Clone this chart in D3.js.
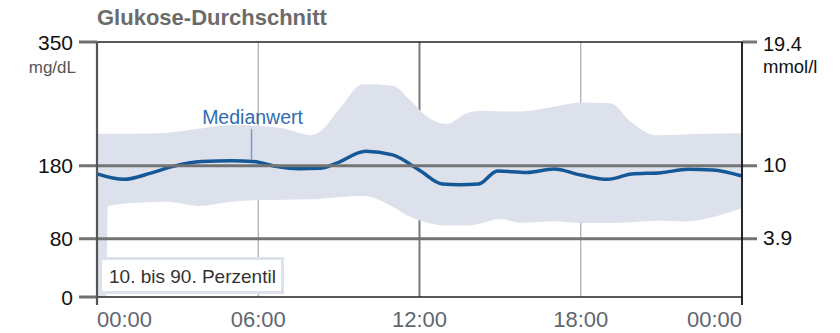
<!DOCTYPE html>
<html>
<head>
<meta charset="utf-8">
<script src="https://cdn.jsdelivr.net/npm/d3@7/dist/d3.min.js"></script>
<style>
  html, body { margin: 0; padding: 0; background: #fff; }
  svg { display: block; font-family: "Liberation Sans", Arial, sans-serif; }
</style>
</head>
<body>
<svg id="chart" width="840" height="333"></svg>
<script>
// Glucose profile over 24 hours (mg/dL)
const bandHours = [0, 0.35, 0.4, 1.5, 2.6, 3.8, 5.0, 6.0, 6.9, 8.0, 8.3, 9.0, 9.9, 11.0, 11.65, 12.3, 13.0, 13.75, 14.25, 15.0, 15.75, 17.0, 18.0, 19.1, 19.9, 20.8, 21.9, 22.6, 23.2, 24];
const p90 = [224, 224, 224, 224, 225.5, 231, 236, 235, 231.5, 222, 227, 257, 292, 290, 270, 247, 237.5, 252, 255.5, 254.5, 254.5, 261, 267, 266, 239, 222, 223, 224, 224.5, 224.7];
const p10 = [0, 0, 125, 129.5, 130.8, 125, 130.8, 133, 133.5, 134, 135, 137, 138.5, 124, 110, 102, 98, 98, 101, 107, 102, 104, 101.5, 101.5, 102.5, 104.5, 103.5, 107, 112.5, 121.7];

const medianHours = [0, 1.0, 2.0, 2.8, 3.9, 5.0, 5.8, 6.7, 7.5, 8.3, 8.9, 10.0, 11.0, 12.0, 12.85, 13.5, 14.2, 14.9, 16.0, 17.0, 18.0, 19.0, 19.9, 21.0, 22.0, 22.9, 24];
const median = [169, 161.5, 170, 179, 186, 187, 186, 179, 176, 176.6, 183.5, 200, 195, 174, 155, 154, 155, 173, 171, 175.7, 167.5, 161.5, 168.8, 170.6, 175.2, 174.3, 166];

const xTickHours = [0, 6, 12, 18, 24];
const xTickLabels = ["00:00", "06:00", "12:00", "18:00", "00:00"];
const yTicksMg = [0, 80, 180, 350];
const rightTickMg = [80, 180, 350];
const rightTickLabels = ["3.9", "10", "19.4"];
const targetLines = [80, 180];
const gridHours = [6, 12, 18];

const L = 97, R = 742, T = 42, B = 297;
const svg = d3.select("#chart");

const x = d3.scaleLinear().domain([0, 24]).range([L, R]);
const y = d3.scaleLinear().domain([0, 350]).range([B, T]);

// Title
svg.append("text").attr("x", L).attr("y", 25)
  .attr("font-size", 22).attr("font-weight", "bold").attr("fill", "#6b6b6b")
  .text("Glukose-Durchschnitt");

// Vertical grid lines
svg.append("g").selectAll("line").data(gridHours).join("line")
  .attr("x1", d => x(d)).attr("x2", d => x(d))
  .attr("y1", T).attr("y2", B)
  .attr("stroke", d => d === 12 ? "#7a7a7a" : "#a8a8a8")
  .attr("stroke-width", d => d === 12 ? 2 : 1.2);

// 10th - 90th percentile band
const bandData = bandHours.map((h, i) => ({ h, lo: p10[i], hi: p90[i] }));
svg.append("path").datum(bandData)
  .attr("fill", "#dde1ec")
  .attr("d", d3.area().x(d => x(d.h)).y0(d => y(d.lo)).y1(d => y(d.hi)).curve(d3.curveMonotoneX));

// Median line
const medData = medianHours.map((h, i) => ({ h, v: median[i] }));
svg.append("path").datum(medData)
  .attr("fill", "none").attr("stroke", "#145897").attr("stroke-width", 3.5)
  .attr("stroke-linejoin", "round")
  .attr("d", d3.line().x(d => x(d.h)).y(d => y(d.v)).curve(d3.curveMonotoneX));

// Median annotation
const annH = 5.75;
const annV = d3.scaleLinear().domain(medianHours).range(median)(annH);
svg.append("line")
  .attr("x1", x(annH)).attr("x2", x(annH))
  .attr("y1", 129).attr("y2", y(annV) - 2)
  .attr("stroke", "#7f9cc0").attr("stroke-width", 1.5);
svg.append("text").attr("x", x(annH) + 1).attr("y", 124)
  .attr("text-anchor", "middle").attr("font-size", 19.5).attr("fill", "#2f6cb3")
  .text("Medianwert");

// Target range lines (180 and 80 mg/dL)
svg.append("g").selectAll("line").data(targetLines).join("line")
  .attr("x1", L - 18).attr("x2", R + 15)
  .attr("y1", d => y(d)).attr("y2", d => y(d))
  .attr("stroke", "#737373").attr("stroke-width", 3);

// Frame: top and bottom borders
svg.append("line").attr("x1", L).attr("x2", R).attr("y1", T).attr("y2", T)
  .attr("stroke", "#222").attr("stroke-width", 1.5);
svg.append("line").attr("x1", L).attr("x2", R).attr("y1", B).attr("y2", B)
  .attr("stroke", "#222").attr("stroke-width", 1.5);

// Left tick marks at 0 and 350
svg.append("g").selectAll("line").data([0, 350]).join("line")
  .attr("x1", L - 18).attr("x2", L)
  .attr("y1", d => y(d)).attr("y2", d => y(d))
  .attr("stroke", "#6e6e6e").attr("stroke-width", 3);
// Right tick mark at 350
svg.append("line").attr("x1", R).attr("x2", R + 15).attr("y1", y(350)).attr("y2", y(350))
  .attr("stroke", "#777").attr("stroke-width", 3);

// Left and right vertical axes
svg.append("line").attr("x1", L).attr("x2", L).attr("y1", T).attr("y2", B + 8)
  .attr("stroke", "#555").attr("stroke-width", 2.2);
svg.append("line").attr("x1", R).attr("x2", R).attr("y1", T).attr("y2", B + 8)
  .attr("stroke", "#111").attr("stroke-width", 1.8);

// Left tick labels (mg/dL)
svg.append("g").selectAll("text").data(yTicksMg).join("text")
  .attr("x", 73).attr("y", d => y(d)).attr("dy", "0.36em")
  .attr("text-anchor", "end").attr("font-size", 21).attr("fill", "#111")
  .text(d => d);
svg.append("text").attr("x", 76).attr("y", 73)
  .attr("text-anchor", "end").attr("font-size", 17).attr("fill", "#555")
  .text("mg/dL");

// Right tick labels (mmol/l)
svg.append("g").selectAll("text").data(rightTickMg).join("text")
  .attr("x", 763).attr("y", d => d === 350 ? 51 : y(d)).attr("dy", d => d === 350 ? 0 : "0.3em")
  .attr("font-size", d => d === 350 ? 20 : 21).attr("fill", "#111")
  .text((d, i) => rightTickLabels[i]);
svg.append("text").attr("x", 763).attr("y", 72.5)
  .attr("font-size", 18.5).attr("fill", "#111")
  .text("mmol/l");

// Time axis labels
svg.append("g").selectAll("text").data(xTickHours).join("text")
  .attr("x", d => x(d)).attr("y", 327)
  .attr("text-anchor", (d, i) => i === 0 ? "start" : (i === xTickHours.length - 1 ? "end" : "middle"))
  .attr("font-size", 22).attr("fill", "#5f6670")
  .text((d, i) => xTickLabels[i]);

// Legend box
svg.append("rect").attr("x", 100.5).attr("y", 258.5).attr("width", 182).attr("height", 34)
  .attr("fill", "#fff").attr("stroke", "#dde1ec").attr("stroke-width", 3);
svg.append("text").attr("x", 109).attr("y", 283)
  .attr("font-size", 19).attr("fill", "#333")
  .text("10. bis 90. Perzentil");
</script>
</body>
</html>
